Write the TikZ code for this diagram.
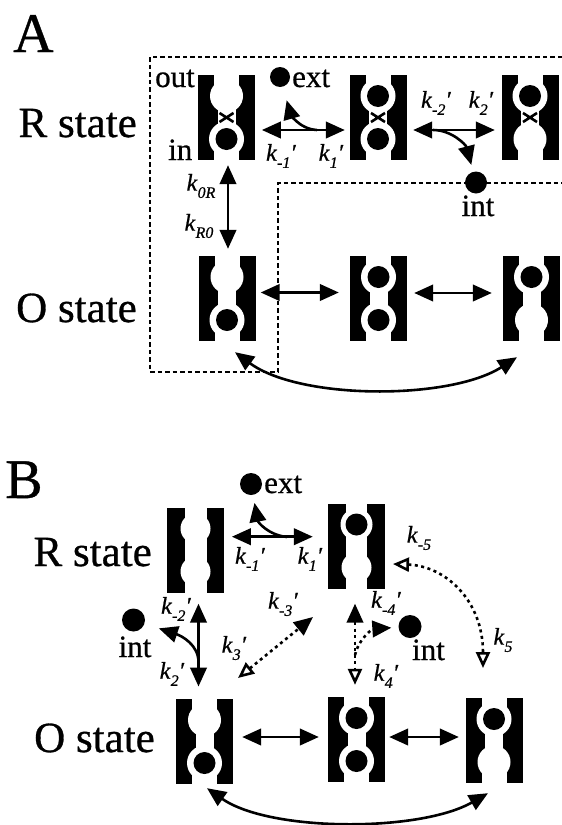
\documentclass[tikz,border=0pt]{standalone}
\usepackage{fontspec}
\setmainfont{Liberation Serif}[FakeBold=0.7]
\usetikzlibrary{arrows.meta,calc}

% prime mark and rate constant label: italic k, lowered subscript, optional prime
\newcommand\pr{\char"2032\relax}
\newcommand\krate[2]{\textit{k}\raisebox{-0.3em}{\fontsize{16}{18}\selectfont\textit{#1}}\textit{#2}}

% channel: #1 name, #2 centre, #3 pore width, #4 mouth width,
% #5 empty-site radius, #6 outer site filled, #7 inner site filled, #8 gate cross
\newcommand\ionchannel[8]{%
  \node[chanbox] (#1) at (#2) {};
  \begin{scope}[shift={(#1.center)}]
    \pgfmathsetmacro\ringr{#5+1}
    \fill[black] (-28.5,-42.5) rectangle (28.5,42.5);
    \fill[white] (-#4/2,-42.5) rectangle (#4/2,-21.5);
    \fill[white] (-#4/2,21.5) rectangle (#4/2,42.5);
    \fill[white] (-#3/2,-21.5) rectangle (#3/2,21.5);
    \ifnum#6=1
      \fill[white] (0,-21.5) circle[radius=\ringr pt];
      \fill[black] (0,-21.5) circle[radius=11pt];
    \else
      \fill[white] (0,-21.5) circle[radius=#5pt];
    \fi
    \ifnum#7=1
      \fill[white] (0,21.5) circle[radius=\ringr pt];
      \fill[black] (0,21.5) circle[radius=11pt];
    \else
      \fill[white] (0,21.5) circle[radius=#5pt];
    \fi
    \ifnum#8=1
      \draw[line width=2.6pt] (-7,-4.5) -- (7,4.5) (-7,4.5) -- (7,-4.5);
    \fi
  \end{scope}}

\begin{document}
\begin{tikzpicture}[x=1pt,y=-1pt,
  fhead/.tip={Triangle[length=19pt,width=16.5pt]},
  ohead/.tip={Triangle[open,length=16pt,width=14pt]},
  chanbox/.style={rectangle,minimum width=57pt,minimum height=85pt,inner sep=0pt,draw=none},
  statelbl/.style={font=\fontsize{43}{50}\selectfont,inner sep=0pt},
  panellbl/.style={font=\fontsize{56}{64}\selectfont,inner sep=0pt},
  small/.style={font=\fontsize{31}{36}\selectfont,inner sep=0pt},
  rate/.style={font=\fontsize{24}{28}\selectfont,inner sep=0pt},
  ion/.style={circle,fill=black,inner sep=0pt,minimum size=22pt},
  link/.style={line width=2.6pt},
  both/.style={link,fhead-fhead},
  oneway/.style={link,-fhead},
  dots/.style={line width=2.6pt,dash pattern=on 3pt off 3.5pt},
  region/.style={line width=2pt,dash pattern=on 4.5pt off 3pt}]

\fill[white] (0,0) rectangle (562,825);
\useasboundingbox (0,0) rectangle (562,825);

% ---------------- panel A ----------------
\draw[region] (562,56.5) -- (150,56.5) -- (150,372) -- (278,372) -- (278,183) -- (562,183);

\node[panellbl,anchor=base west] (labA) at (13,52) {A};
\node[statelbl,anchor=base east] (aRlbl) at (137,137) {R state};
\node[statelbl,anchor=base east] (aOlbl) at (137,322) {O state};

\ionchannel{aR1}{226.5,117.5}{18}{25}{16.5}{0}{1}{1}
\ionchannel{aR2}{378,117.5}{18}{25}{16.5}{1}{1}{1}
\ionchannel{aR3}{530,117.5}{18}{25}{16.5}{1}{0}{1}
\ionchannel{aO1}{227,298.5}{18}{25}{16.5}{0}{1}{0}
\ionchannel{aO2}{378.5,298.5}{18}{25}{16.5}{1}{1}{0}
\ionchannel{aO3}{531.5,298.5}{18}{25}{16.5}{1}{0}{0}

\node[small,anchor=base west] (outlbl) at (155,87) {out};
\node[small,anchor=base west] (inlbl) at (168,160) {in};

\node[ion,minimum size=20pt] (extA) at (280,77) {};
\node[small,anchor=base west] (extAlbl) at (292,87) {ext};
\node[ion] (intA) at (476,182.5) {};
\node[small,anchor=base] (intAlbl) at (478,216) {int};

% R-state transitions
\draw[both,shorten <=6.7pt,shorten >=4.5pt] ([yshift=-12.5pt]aR1.east) -- ([yshift=-12.5pt]aR2.west);
\draw[both,shorten <=6.5pt,shorten >=6.5pt] ([yshift=-12.5pt]aR2.east) -- ([yshift=-12.5pt]aR3.west);
\coordinate (aFork1) at (317,130);
\coordinate (aFork2) at (433,130);
\draw[oneway,shorten >=14pt] (aFork1) .. controls (298,129) and (290,112) .. (extA);
\draw[oneway,shorten >=7pt] (aFork2) .. controls (452,130) and (466,145) .. (intA);

\node[rate] (km1A) at (281,156) {\krate{-1}{\pr}};
\node[rate] (k1A) at (331,156) {\krate{1}{\pr}};
\node[rate] (km2A) at (436,103) {\krate{-2}{\pr}};
\node[rate] (k2A) at (481,103) {\krate{2}{\pr}};

% R <-> O
\draw[both,shorten <=5pt,shorten >=7pt] ([xshift=1.5pt]aR1.south) -- ([xshift=1pt]aO1.north);
\node[rate] (k0R) at (201,186) {\krate{0R}{}};
\node[rate] (kR0) at (199,226) {\krate{R0}{}};

% O-state transitions
\draw[both,shorten <=5pt,shorten >=11pt] ([yshift=6pt]aO1.east) -- ([yshift=6pt]aO2.west);
\draw[both,shorten <=7pt,shorten >=11pt] ([yshift=5.5pt]aO2.east) -- ([yshift=5.5pt]aO3.west);
\draw[both] ([shift={(8,11)}]aO1.south) .. controls +(65,48) and +(-67,43) .. ([shift={(-14.5,16)}]aO3.south);

% ---------------- panel B ----------------
\node[panellbl,anchor=base west] (labB) at (5,498) {B};
\node[statelbl,anchor=base east] (bRlbl) at (152,566) {R state};
\node[statelbl,anchor=base east] (bOlbl) at (155,752) {O state};

\ionchannel{bR1}{195.5,550}{22}{22}{15}{0}{0}{0}
\ionchannel{bR2}{356.5,546}{21}{21}{15}{1}{0}{0}
\ionchannel{bO1}{204.5,741.5}{18}{25}{16.5}{0}{1}{0}
\ionchannel{bO2}{356.5,739.5}{18}{25}{16.5}{1}{1}{0}
\ionchannel{bO3}{494,740.5}{18}{25}{16.5}{1}{0}{0}

\node[ion] (extB) at (251,484) {};
\node[small,anchor=base west] (extBlbl) at (264,493) {ext};
\node[ion,minimum size=23pt] (intBl) at (133.5,620) {};
\node[small,anchor=base] (intBllbl) at (135,657) {int};
\node[ion,minimum size=23pt] (intBr) at (410,626.5) {};
\node[small,anchor=base] (intBrlbl) at (428.5,660) {int};

% R-state transition
\draw[both,shorten <=7.7pt,shorten >=15pt] ([yshift=13.3pt]bR1.east) -- ([yshift=9.3pt]bR2.west);
\coordinate (bFork1) at (287,537);
\draw[oneway,shorten >=8pt] (bFork1) .. controls (268,535) and (258,522) .. (extB);
\node[rate] (km1B) at (250,559) {\krate{-1}{\pr}};
\node[rate] (k1B) at (310,559) {\krate{1}{\pr}};

% R <-> O, left
\draw[both,shorten <=11pt,shorten >=12.3pt] ([xshift=3pt]bR1.south) -- ([xshift=-6pt]bO1.north);
\coordinate (bFork2) at (198.5,662);
\draw[oneway,shorten >=15pt] (bFork2) .. controls (198.5,645) and (182,636) .. (intBl);
\node[rate] (km2B) at (176,609) {\krate{-2}{\pr}};
\node[rate] (k2B) at (172,674) {\krate{2}{\pr}};

% diagonal
\coordinate (k3lo) at (238,678);
\coordinate (k3hi) at (313,617);
\draw[dots,ohead-fhead] (k3lo) -- (k3hi);
\node[rate] (km3B) at (283,604) {\krate{-3}{\pr}};
\node[rate] (k3B) at (234,648) {\krate{3}{\pr}};

% R <-> O, middle
\draw[dots,fhead-ohead,shorten <=15pt,shorten >=12pt] ([xshift=-1.5pt]bR2.south) -- ([xshift=-1.5pt]bO2.north);
\coordinate (bFork3) at (355,655);
\draw[dots,-fhead,shorten >=7pt] (bFork3) .. controls (358,640) and (372,629) .. (intBr);
\node[rate] (km4B) at (386,603) {\krate{-4}{\pr}};
\node[rate] (k4B) at (386,676) {\krate{4}{\pr}};

% R <-> O, right
\coordinate (k5hi) at (393,564);
\coordinate (k5lo) at (483,668);
\draw[dots,ohead-ohead] (k5hi) .. controls (445,566) and (483,600) .. (k5lo);
\node[rate] (km5B) at (419,538) {\krate{-5}{}};
\node[rate] (k5B) at (503,640) {\krate{5}{}};

% O-state transitions
\draw[both,shorten <=9pt,shorten >=9pt] ([yshift=4.5pt]bO1.east) -- ([yshift=2.5pt]bO2.west);
\draw[both,shorten <=4pt,shorten >=6.5pt] ([yshift=2.5pt]bO2.east) -- ([yshift=3.5pt]bO3.west);
\draw[both] ([shift={(2.5,4)}]bO1.south) .. controls +(63,44) and +(-68,39) .. ([shift={(-6,10)}]bO3.south);

\end{tikzpicture}
\end{document}
